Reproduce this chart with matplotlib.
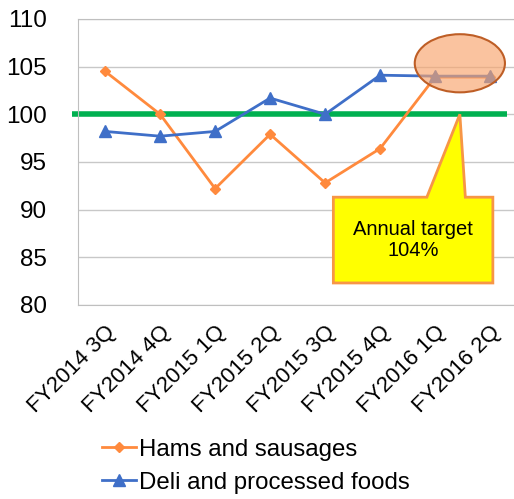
import matplotlib
matplotlib.use("Agg")
import matplotlib.pyplot as plt
from matplotlib.patches import Ellipse, Polygon
import numpy as np

plt.rcParams['font.family'] = ['Liberation Sans', 'DejaVu Sans']

categories = ["FY2014 3Q", "FY2014 4Q", "FY2015 1Q", "FY2015 2Q",
              "FY2015 3Q", "FY2015 4Q", "FY2016 1Q", "FY2016 2Q"]
hams = [104.5, 100.0, 92.2, 97.9, 92.8, 96.4, 103.9, 103.9]
deli = [98.2, 97.7, 98.2, 101.7, 100.0, 104.1, 104.0, 104.0]
target_line = 100
yticks = [80, 85, 90, 95, 100, 105, 110]

fig = plt.figure(figsize=(5.14, 4.99), dpi=100)
ax = fig.add_axes([0.151, 0.389, 0.856, 0.573])
x = np.arange(len(categories))

ax.set_xlim(-0.5, len(categories) - 0.5)
ax.set_ylim(80, 110)
ax.set_yticks(yticks)
ax.yaxis.grid(True, color='#C8C8C8', linewidth=1)
ax.set_axisbelow(True)
for s in ax.spines.values():
    s.set_color('#BFBFBF')
ax.tick_params(axis='both', length=0)
ax.tick_params(axis='y', labelsize=17.5, pad=22)
ax.set_xticks(x)
ax.set_xticklabels(categories, rotation=45, ha='right', rotation_mode='anchor',
                   fontsize=16)
ax.tick_params(axis='x', pad=12)

# green target line (extends slightly beyond axes)
ax.plot([-0.6, 7.3], [target_line, target_line], color='#00B050', lw=4,
        clip_on=False, zorder=2, solid_capstyle='butt')

ax.plot(x, hams, color='#FF8A3D', lw=2, marker='D', markersize=5.5,
        label='Hams and sausages', zorder=3)
ax.plot(x, deli, color='#3F6FC8', lw=2, marker='^', markersize=8.5,
        label='Deli and processed foods', zorder=4)

# highlight ellipse
ell = Ellipse((6.45, 105.35), 1.64, 6.1, facecolor='#F8A46C', alpha=0.65,
              edgecolor='none', zorder=5)
ax.add_patch(ell)
ell2 = Ellipse((6.45, 105.35), 1.64, 6.1, facecolor='none',
               edgecolor='#BE5E26', lw=1.5, zorder=6)
ax.add_patch(ell2)

# callout
callout = Polygon([(4.15, 91.3), (5.85, 91.3), (6.45, 100.0), (6.55, 91.3),
                   (7.05, 91.3), (7.05, 82.3), (4.15, 82.3)],
                  closed=True, facecolor='#FFFF00', edgecolor='#F79646',
                  lw=2, zorder=5)
ax.add_patch(callout)
ax.text(5.6, 86.8, "Annual target\n104%", ha='center', va='center',
        fontsize=14.5, zorder=6, linespacing=1.15)

leg = fig.legend(loc='upper left', bbox_to_anchor=(0.18, 0.14), frameon=False,
                 fontsize=17.3, handlelength=1.4, handletextpad=0.15,
                 labelspacing=0.45, borderaxespad=0)

fig.savefig("out.png", dpi=100)
